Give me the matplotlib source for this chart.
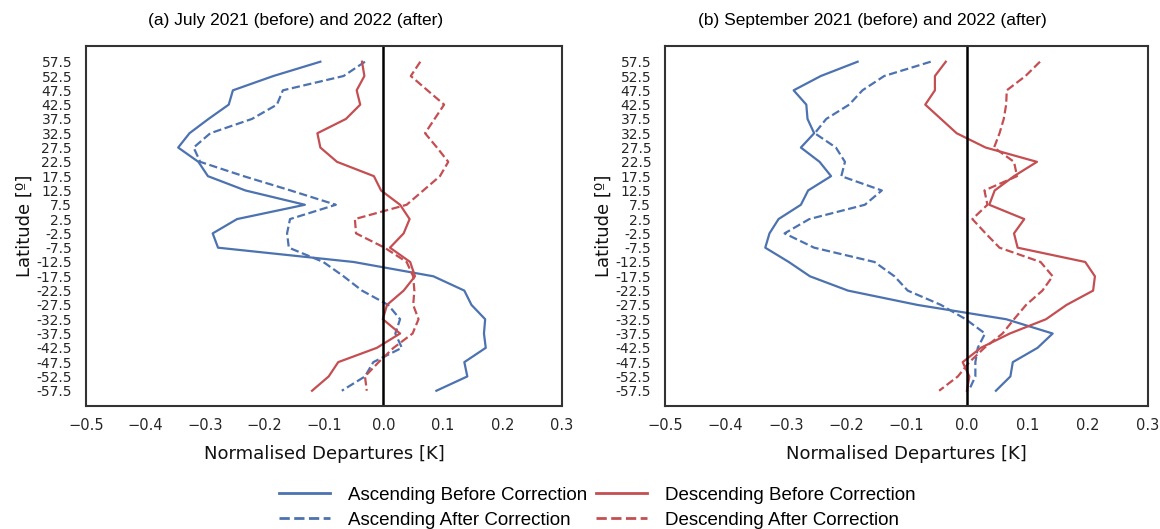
import numpy as np
import matplotlib
matplotlib.use("Agg")
import matplotlib.pyplot as plt
from matplotlib.lines import Line2D

# -----------------------------
# Data: latitude bands and normalised departures [K]
# -----------------------------
latitudes = [57.5, 52.5, 47.5, 42.5, 37.5, 32.5, 27.5, 22.5, 17.5, 12.5, 7.5, 2.5,
             -2.5, -7.5, -12.5, -17.5, -22.5, -27.5, -32.5, -37.5, -42.5, -47.5, -52.5, -57.5]
lat_labels = [f"{v}" for v in latitudes]

# (a) July
jul_asc_before = [-0.106, -0.185, -0.253, -0.260, -0.294, -0.326, -0.345, -0.311, -0.295, -0.232,
                  -0.132, -0.246, -0.287, -0.278, -0.050, 0.084, 0.136, 0.148, 0.171, 0.169,
                  0.172, 0.136, 0.141, 0.089]
jul_asc_after = [-0.031, -0.067, -0.169, -0.179, -0.221, -0.291, -0.319, -0.308, -0.235, -0.156,
                 -0.080, -0.157, -0.162, -0.159, -0.101, -0.067, -0.036, 0.008, 0.028, 0.020,
                 0.031, -0.017, -0.031, -0.070]
jul_desc_before = [-0.036, -0.032, -0.045, -0.039, -0.063, -0.111, -0.106, -0.078, -0.016, -0.004,
                   0.028, 0.044, 0.034, 0.011, 0.045, 0.053, 0.034, 0.006, -0.001, 0.028,
                   -0.011, -0.076, -0.092, -0.120]
jul_desc_after = [0.062, 0.046, 0.074, 0.102, 0.086, 0.070, 0.090, 0.109, 0.095, 0.067,
                  0.039, -0.048, -0.046, 0.002, 0.039, 0.050, 0.052, 0.050, 0.059, 0.049,
                  0.017, -0.008, -0.031, -0.028]

# (b) September
sep_asc_before = [-0.181, -0.242, -0.287, -0.266, -0.264, -0.253, -0.275, -0.244, -0.225, -0.263,
                  -0.275, -0.312, -0.327, -0.334, -0.295, -0.260, -0.197, -0.082, 0.065, 0.142,
                  0.117, 0.076, 0.072, 0.048]
sep_asc_after = [-0.060, -0.137, -0.173, -0.195, -0.233, -0.252, -0.217, -0.202, -0.208, -0.141,
                 -0.169, -0.261, -0.302, -0.253, -0.153, -0.120, -0.098, -0.043, -0.002, 0.030,
                 0.018, 0.014, 0.014, 0.003]
sep_desc_before = [-0.035, -0.053, -0.053, -0.069, -0.043, -0.017, 0.031, 0.116, 0.078, 0.046,
                   0.037, 0.095, 0.078, 0.084, 0.196, 0.212, 0.209, 0.165, 0.131, 0.071,
                   0.023, -0.007, 0.004, 0.000]
sep_desc_after = [0.121, 0.097, 0.066, 0.065, 0.061, 0.054, 0.045, 0.078, 0.083, 0.029,
                  0.034, 0.009, 0.031, 0.054, 0.122, 0.142, 0.125, 0.098, 0.078, 0.059,
                  0.029, 0.004, -0.015, -0.046]

titles = ["(a) July 2021 (before) and 2022 (after)",
          "(b) September 2021 (before) and 2022 (after)"]
series_names = ["Ascending Before Correction", "Ascending After Correction",
                "Descending Before Correction", "Descending After Correction"]

blue = "#4C72B0"
red = "#C44E52"
lw = 1.6

# -----------------------------
# Figure
# -----------------------------
fig = plt.figure(figsize=(11.6, 5.29), dpi=100)
ax_a = fig.add_axes([0.0741, 0.2316, 0.4103, 0.6815])
ax_b = fig.add_axes([0.5733, 0.2316, 0.4164, 0.6815])

panels = [
    (ax_a, jul_asc_before, jul_asc_after, jul_desc_before, jul_desc_after),
    (ax_b, sep_asc_before, sep_asc_after, sep_desc_before, sep_desc_after),
]

# titles sit a bit left of the axes centre in the original
title_x = [0.44, 0.43]

for i, (ax, ab, aa, db, da) in enumerate(panels):
    ax.plot(ab, latitudes, color=blue, lw=lw, ls="-")
    ax.plot(aa, latitudes, color=blue, lw=lw, ls="--")
    ax.plot(db, latitudes, color=red, lw=lw, ls="-")
    ax.plot(da, latitudes, color=red, lw=lw, ls="--")
    ax.axvline(0, color="black", lw=1.8)

    ax.set_xlim(-0.5, 0.3)
    ax.set_ylim(-63, 63)
    ax.set_xticks(np.round(np.arange(-0.5, 0.31, 0.1), 1))
    ax.set_yticks(latitudes)
    ax.set_yticklabels(lat_labels, fontsize=10, color="#262626")
    ax.tick_params(axis="x", labelsize=10.5, colors="#262626", length=0, pad=8)
    ax.tick_params(axis="y", length=0, pad=10)
    for s in ax.spines.values():
        s.set_color("#333333")
        s.set_linewidth(1.5)

    ax.set_xlabel("Normalised Departures [K]", fontsize=13, color="#111111", labelpad=9)
    ax.set_ylabel("Latitude [º]", fontsize=13, color="#111111", labelpad=2)
    ax.set_title(titles[i], fontsize=12.5, family="Liberation Sans", pad=15, x=title_x[i])

handles = [
    Line2D([], [], color=blue, lw=2, ls="-"),
    Line2D([], [], color=blue, lw=2, ls="--"),
    Line2D([], [], color=red, lw=2, ls="-"),
    Line2D([], [], color=red, lw=2, ls="--"),
]
fig.legend(handles, series_names, ncol=2, loc="lower center",
           bbox_to_anchor=(0.515, -0.031), frameon=False,
           prop={"family": "Liberation Sans", "size": 13.5},
           handlelength=2.7, handletextpad=0.95, columnspacing=0.5, labelspacing=0.4)

fig.savefig("out.png", dpi=100)
